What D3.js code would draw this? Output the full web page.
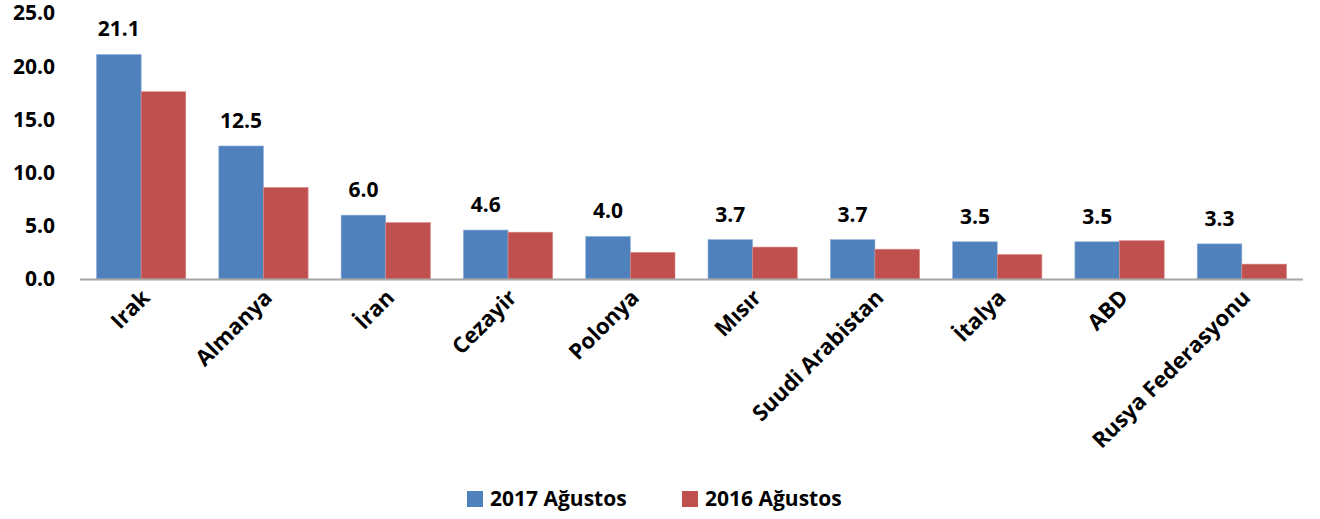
<!DOCTYPE html>
<html>
<head>
<meta charset="utf-8">
<script src="https://cdn.jsdelivr.net/npm/d3@7"></script>
<style>
  body { margin: 0; background: #fff; }
  text { font-family: "Open Sans", Lato, sans-serif; font-weight: bold; fill: #000; }
</style>
</head>
<body>
<svg id="chart" width="1320" height="519"></svg>
<script>
// data
var countries = ["Irak", "Almanya", "İran", "Cezayir", "Polonya", "Mısır", "Suudi Arabistan", "İtalya", "ABD", "Rusya Federasyonu"];
var aug2017 = [21.1, 12.5, 6.0, 4.6, 4.0, 3.7, 3.7, 3.5, 3.5, 3.3];
var aug2016 = [17.6, 8.6, 5.3, 4.4, 2.5, 3.0, 2.8, 2.3, 3.6, 1.4];
var seriesNames = ["2017 Ağustos", "2016 Ağustos"];
var colors = ["#4F81BD", "#C0504D"];
var yTicks = [0, 5, 10, 15, 20, 25];

var svg = d3.select("#chart");
var pLeft = 80, pRight = 1303, pTop = 13, pBottom = 279;

var x = d3.scaleBand().domain(countries).range([pLeft, pRight]).paddingInner(0.27).paddingOuter(0.135);
var sub = d3.scaleBand().domain([0, 1]).range([0, x.bandwidth()]);
var y = d3.scaleLinear().domain([0, 25]).range([pBottom, pTop]);

// y labels
svg.append("g").selectAll("text")
  .data(yTicks)
  .enter().append("text")
    .attr("x", 55)
    .attr("y", function(d) { return y(d); })
    .attr("dy", "0.35em")
    .attr("text-anchor", "end")
    .style("font-size", "21px")
    .text(function(d) { return d3.format(".1f")(d); });

var rows = countries.map(function(c, i) { return {c: c, v: [aug2017[i], aug2016[i]]}; });

var grp = svg.append("g").selectAll("g")
  .data(rows)
  .enter().append("g")
    .attr("transform", function(d) { return "translate(" + x(d.c) + ",0)"; });

grp.selectAll("rect")
  .data(function(d) { return d.v; })
  .enter().append("rect")
    .attr("x", function(d, i) { return sub(i); })
    .attr("y", function(d) { return y(d); })
    .attr("width", sub.bandwidth())
    .attr("height", function(d) { return y(0) - y(d); })
    .attr("fill", function(d, i) { return colors[i]; })
    .attr("stroke", function(d, i) { return i ? "#d98a88" : "#8fb0d8"; })
    .attr("stroke-width", 0.6);

// value labels on 2017 bars
grp.append("text")
  .attr("x", sub(0) + sub.bandwidth() / 2)
  .attr("y", function(d) { return y(d.v[0]) - 18; })
  .attr("text-anchor", "middle")
  .style("font-size", "21px")
  .text(function(d) { return d3.format(".1f")(d.v[0]); });

// axis line
svg.append("line")
  .attr("x1", pLeft).attr("x2", pRight)
  .attr("y1", pBottom + 0.5).attr("y2", pBottom + 0.5)
  .attr("stroke", "#a6a6a6").attr("stroke-width", 2);

// x labels
svg.append("g").selectAll("text")
  .data(countries)
  .enter().append("text")
    .attr("text-anchor", "end")
    .attr("transform", function(d) {
      return "translate(" + (x(d) + x.bandwidth() / 2 + 10) + ",299) rotate(-45)";
    })
    .style("font-size", "22px")
    .text(function(d) { return d; });

// legend
var legX = [467, 682];
var leg = svg.append("g").selectAll("g")
  .data(seriesNames)
  .enter().append("g")
    .attr("transform", function(d, i) { return "translate(" + legX[i] + ",491)"; });
leg.append("rect").attr("width", 16).attr("height", 16)
  .attr("fill", function(d, i) { return colors[i]; });
leg.append("text").attr("x", 23).attr("y", 8).attr("dy", "0.35em")
  .style("font-size", "21px")
  .text(function(d) { return d; });
</script>
</body>
</html>
